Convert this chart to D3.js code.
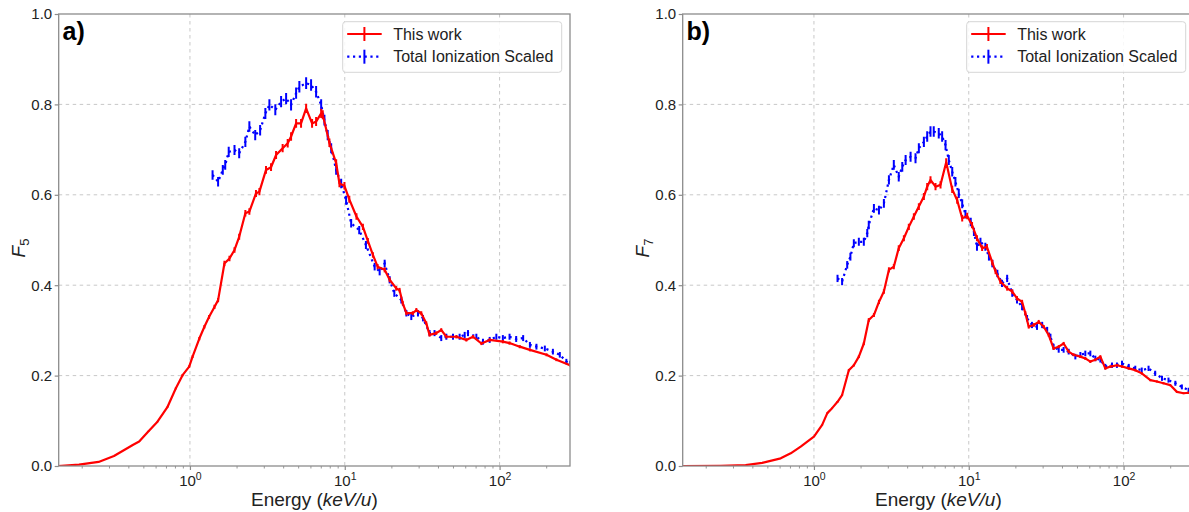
<!DOCTYPE html>
<html>
<head>
<meta charset="utf-8">
<script src="https://cdn.jsdelivr.net/npm/d3@7"></script>
<style>
  html, body { margin: 0; padding: 0; background: #fff; overflow: hidden; }
  svg { display: block; font-family: "Liberation Sans", Arial, Helvetica, sans-serif; }
</style>
</head>
<body>
<svg id="chart" width="1189" height="512"></svg>
<script>
// ---- Data: panel a) F5 ----
const energyA_work = [0.1406, 0.192, 0.257, 0.323, 0.430, 0.470, 0.540, 0.617, 0.717, 0.811, 0.896, 0.989, 1.04, 1.15, 1.24, 1.33, 1.44, 1.52, 1.67, 1.80, 1.94, 2.08, 2.28, 2.42, 2.67, 2.81, 3.10, 3.34, 3.60, 3.97, 4.28, 4.50, 4.85, 5.22, 5.63, 6.15, 6.53, 7.04, 7.21, 7.96, 8.80, 9.24, 9.95, 10.7, 11.9, 13.1, 14.1, 15.2, 16.3, 18.1, 19.5, 21.5, 22.6, 23.7, 25.0, 27.5, 29.0, 31.2, 33.6, 35.3, 39.0, 42.0, 45.3, 52.6, 61.0, 67.3, 76.3, 86.3, 105, 116, 135, 157, 201, 233, 285];
const valueA_work  = [0.0, 0.003, 0.009, 0.022, 0.047, 0.054, 0.077, 0.098, 0.131, 0.172, 0.201, 0.220, 0.242, 0.282, 0.308, 0.330, 0.352, 0.367, 0.448, 0.459, 0.478, 0.507, 0.559, 0.563, 0.603, 0.607, 0.655, 0.661, 0.688, 0.703, 0.714, 0.729, 0.758, 0.758, 0.791, 0.758, 0.762, 0.780, 0.777, 0.715, 0.670, 0.625, 0.620, 0.590, 0.552, 0.529, 0.498, 0.467, 0.441, 0.434, 0.412, 0.393, 0.389, 0.360, 0.338, 0.338, 0.345, 0.338, 0.316, 0.290, 0.294, 0.301, 0.286, 0.286, 0.279, 0.286, 0.271, 0.279, 0.275, 0.272, 0.264, 0.257, 0.246, 0.235, 0.223];
const energyA_ion  = [1.40, 1.52, 1.63, 1.69, 1.78, 1.94, 2.08, 2.28, 2.42, 2.64, 2.84, 3.07, 3.26, 3.56, 3.88, 4.18, 4.50, 4.85, 5.09, 5.63, 6.06, 6.53, 7.04, 7.39, 7.76, 8.17, 8.80, 9.48, 10.2, 11.0, 12.4, 13.7, 15.6, 16.8, 18.1, 19.5, 20.9, 23.2, 25.0, 26.9, 29.7, 32.0, 35.3, 38.0, 42.0, 45.3, 50.0, 55.2, 59.5, 62.5, 70.8, 78.1, 86.3, 95.3, 105, 116, 128, 142, 157, 173, 196, 221, 245, 270, 285];
const valueA_ion   = [0.644, 0.629, 0.655, 0.666, 0.695, 0.699, 0.692, 0.717, 0.751, 0.732, 0.743, 0.780, 0.799, 0.788, 0.806, 0.813, 0.799, 0.825, 0.839, 0.847, 0.843, 0.828, 0.799, 0.765, 0.732, 0.703, 0.655, 0.625, 0.588, 0.537, 0.522, 0.489, 0.441, 0.430, 0.448, 0.412, 0.382, 0.367, 0.338, 0.330, 0.338, 0.327, 0.294, 0.294, 0.283, 0.286, 0.286, 0.286, 0.290, 0.294, 0.286, 0.275, 0.279, 0.286, 0.283, 0.286, 0.281, 0.283, 0.268, 0.264, 0.260, 0.253, 0.246, 0.231, 0.227];

// ---- Data: panel b) F7 ----
const energyB_work = [0.142, 0.250, 0.362, 0.463, 0.610, 0.708, 0.821, 0.906, 1.0, 1.13, 1.22, 1.31, 1.42, 1.52, 1.68, 1.81, 1.95, 2.10, 2.26, 2.44, 2.63, 2.83, 3.05, 3.28, 3.53, 3.81, 4.10, 4.42, 4.76, 5.13, 5.39, 5.66, 6.10, 6.57, 7.15, 7.82, 8.42, 9.07, 9.77, 10.5, 11.3, 12.2, 13.1, 14.2, 14.9, 16.0, 17.7, 19.1, 20.5, 22.1, 23.2, 24.4, 26.3, 28.3, 30.5, 32.8, 35.3, 38.1, 41.0, 44.2, 47.6, 52.6, 56.6, 61.0, 65.7, 70.8, 76.2, 82.2, 90.6, 97.7, 108, 119, 131, 149, 164, 181, 200, 221, 244, 263, 285];
const valueB_work  = [0.0, 0.0005, 0.002, 0.007, 0.017, 0.028, 0.043, 0.054, 0.065, 0.091, 0.117, 0.128, 0.142, 0.157, 0.212, 0.223, 0.242, 0.271, 0.323, 0.334, 0.363, 0.386, 0.434, 0.441, 0.482, 0.504, 0.529, 0.552, 0.574, 0.596, 0.618, 0.633, 0.618, 0.622, 0.672, 0.612, 0.588, 0.548, 0.553, 0.533, 0.504, 0.482, 0.485, 0.450, 0.430, 0.408, 0.393, 0.386, 0.371, 0.363, 0.338, 0.308, 0.312, 0.319, 0.308, 0.290, 0.260, 0.264, 0.271, 0.253, 0.246, 0.242, 0.238, 0.231, 0.235, 0.242, 0.216, 0.220, 0.223, 0.220, 0.216, 0.212, 0.205, 0.190, 0.187, 0.183, 0.179, 0.164, 0.161, 0.162, 0.160];
const energyB_ion  = [1.42, 1.52, 1.64, 1.72, 1.81, 1.95, 2.10, 2.21, 2.26, 2.44, 2.63, 2.83, 3.05, 3.28, 3.53, 3.72, 3.91, 4.21, 4.53, 4.76, 5.13, 5.39, 5.66, 5.94, 6.40, 6.73, 7.08, 7.43, 7.82, 8.20, 8.62, 9.07, 9.52, 10.3, 10.8, 11.3, 11.9, 12.8, 13.5, 14.2, 15.3, 16.4, 17.7, 19.1, 20.5, 22.1, 23.8, 25.6, 27.6, 29.8, 32.1, 33.7, 35.3, 38.1, 41.0, 44.2, 48.8, 52.6, 56.6, 61.0, 65.7, 70.8, 76.2, 84.2, 90.6, 97.7, 108, 119, 131, 145, 160, 177, 195, 216, 238, 263, 285];
const valueB_ion   = [0.415, 0.408, 0.445, 0.463, 0.493, 0.496, 0.496, 0.515, 0.533, 0.570, 0.566, 0.581, 0.633, 0.666, 0.640, 0.662, 0.677, 0.684, 0.681, 0.703, 0.717, 0.729, 0.740, 0.740, 0.736, 0.729, 0.710, 0.677, 0.651, 0.629, 0.603, 0.580, 0.557, 0.540, 0.518, 0.485, 0.496, 0.485, 0.463, 0.448, 0.426, 0.404, 0.415, 0.382, 0.367, 0.352, 0.327, 0.312, 0.308, 0.312, 0.301, 0.286, 0.264, 0.257, 0.257, 0.253, 0.242, 0.246, 0.249, 0.249, 0.238, 0.235, 0.220, 0.223, 0.223, 0.227, 0.220, 0.216, 0.212, 0.216, 0.205, 0.194, 0.190, 0.183, 0.175, 0.168, 0.163];

// Uncertainties: relative part plus a flat floor
const relErrWork = 0.013, absErrWork = 0.0;
const relErrIon = 0.011, absErrIon = 0.0035;

const xDomain = [0.142, 285];
const xTickValues = [1, 10, 100];
const xTickExponents = ["0", "1", "2"];
const yTickValues = [0.0, 0.2, 0.4, 0.6, 0.8, 1.0];
const yTickLabels = ["0.0", "0.2", "0.4", "0.6", "0.8", "1.0"];
const seriesNames = ["This work", "Total Ionization Scaled"];

const plotWidth = 511.3;
const panels = [
  { tag: "a)", sub: "5", left: 58.7,
    work: { e: energyA_work, v: valueA_work }, ion: { e: energyA_ion, v: valueA_ion } },
  { tag: "b)", sub: "7", left: 682.7,
    work: { e: energyB_work, v: valueB_work }, ion: { e: energyB_ion, v: valueB_ion } }
];

const plotTop = 14, plotBottom = 466;
const RED = "#ff0000", BLUE = "#0000ff";
const svg = d3.select("#chart");

panels.forEach(p => {
  const right = p.left + plotWidth;
  const x = d3.scaleLog().domain(xDomain).range([p.left, right]);
  const y = d3.scaleLinear().domain([0, 1]).range([plotBottom, plotTop]);
  const g = svg.append("g");

  // grid
  const grid = g.append("g").attr("stroke", "#c8c8c8").attr("stroke-width", 1)
    .attr("stroke-dasharray", "3.5,3.5");
  xTickValues.forEach(t => grid.append("line")
    .attr("x1", x(t)).attr("x2", x(t)).attr("y1", plotTop).attr("y2", plotBottom));
  yTickValues.slice(1, -1).forEach(t => grid.append("line")
    .attr("x1", p.left).attr("x2", right).attr("y1", y(t)).attr("y2", y(t)));

  // clip for data
  const clipId = "clip" + p.sub;
  svg.append("clipPath").attr("id", clipId).append("rect")
    .attr("x", p.left).attr("y", plotTop).attr("width", plotWidth).attr("height", plotBottom - plotTop);
  const data = g.append("g").attr("clip-path", `url(#${clipId})`);

  const line = d3.line().x(d => x(d[0])).y(d => y(d[1]));

  // Total ionization (scaled): dotted line with error bars
  const ionPts = p.ion.e.map((e, i) => [e, p.ion.v[i]]);
  data.append("path").datum(ionPts).attr("d", line)
    .attr("fill", "none").attr("stroke", BLUE).attr("stroke-width", 2.2)
    .attr("stroke-dasharray", "2.2,3.6");
  data.append("g").selectAll("line").data(ionPts).join("line")
    .attr("x1", d => x(d[0])).attr("x2", d => x(d[0]))
    .attr("y1", d => y(d[1] - d[1] * relErrIon - absErrIon))
    .attr("y2", d => y(d[1] + d[1] * relErrIon + absErrIon))
    .attr("stroke", BLUE).attr("stroke-width", 2);

  // This work: solid line with error bars
  const workPts = p.work.e.map((e, i) => [e, p.work.v[i]]);
  data.append("path").datum(workPts).attr("d", line)
    .attr("fill", "none").attr("stroke", RED).attr("stroke-width", 2.2)
    .attr("stroke-linejoin", "round");
  data.append("g").selectAll("line").data(workPts).join("line")
    .attr("x1", d => x(d[0])).attr("x2", d => x(d[0]))
    .attr("y1", d => y(d[1] - d[1] * relErrWork - absErrWork))
    .attr("y2", d => y(d[1] + d[1] * relErrWork + absErrWork))
    .attr("stroke", RED).attr("stroke-width", 2);

  // frame
  g.append("rect").attr("x", p.left).attr("y", plotTop)
    .attr("width", plotWidth).attr("height", plotBottom - plotTop)
    .attr("fill", "none").attr("stroke", "#8c8c8c").attr("stroke-width", 1.3);

  // x axis: major ticks with power-of-ten labels
  const xAxis = g.append("g").attr("transform", `translate(0,${plotBottom})`)
    .call(d3.axisBottom(x).tickValues(xTickValues).tickSize(4).tickFormat(() => ""));
  xAxis.select(".domain").remove();
  xAxis.selectAll(".tick line").attr("stroke", "#8c8c8c").attr("stroke-width", 1.2);
  xAxis.selectAll(".tick").each(function(d, i) {
    const t = d3.select(this).append("text").attr("fill", "#222").attr("y", 19.5)
      .attr("text-anchor", "middle").style("font-size", "15px");
    t.append("tspan").text("10");
    t.append("tspan").attr("dy", -6).style("font-size", "10.5px").text(xTickExponents[i]);
  });

  // x axis: minor ticks
  const minor = [];
  for (let dec = 0.1; dec <= 1000; dec *= 10) {
    for (let k = 2; k <= 9; k++) {
      const v = dec * k;
      if (v >= xDomain[0] && v <= xDomain[1]) minor.push(v);
    }
  }
  const xMinor = g.append("g").attr("transform", `translate(0,${plotBottom})`)
    .call(d3.axisBottom(x).tickValues(minor).tickSize(2.5).tickFormat(""));
  xMinor.select(".domain").remove();
  xMinor.selectAll(".tick line").attr("stroke", "#8c8c8c").attr("stroke-width", 0.9);

  // y axis
  const yAxis = g.append("g").attr("transform", `translate(${p.left},0)`)
    .call(d3.axisLeft(y).tickValues(yTickValues).tickSize(4).tickFormat((d, i) => yTickLabels[i]));
  yAxis.select(".domain").remove();
  yAxis.selectAll(".tick line").attr("stroke", "#8c8c8c").attr("stroke-width", 1.2);
  yAxis.selectAll(".tick text").attr("fill", "#222").attr("x", -6.5)
    .style("font-size", "15px").style("font-family", "'Liberation Sans', Arial, sans-serif");

  // axis titles
  const cx = p.left + plotWidth / 2;
  const xl = g.append("text").attr("x", cx).attr("y", 506).attr("text-anchor", "middle")
    .attr("fill", "#222").style("font-size", "19px");
  xl.append("tspan").text("Energy (");
  xl.append("tspan").style("font-style", "italic").text("keV/u");
  xl.append("tspan").text(")");

  const yl = g.append("text")
    .attr("transform", `translate(${p.left - 34},${(plotTop + plotBottom) / 2 + 8}) rotate(-90)`)
    .attr("text-anchor", "middle").attr("fill", "#222").style("font-size", "19px");
  yl.append("tspan").style("font-style", "italic").text("F");
  yl.append("tspan").attr("dy", 4).style("font-size", "13px").text(p.sub);

  // panel tag
  g.append("text").attr("x", p.left + 3.8).attr("y", 39.5).attr("fill", "#000")
    .style("font-size", "25px").style("font-weight", "bold").text(p.tag);

  // legend
  const lw = 219, lh = 50.6;
  const lx = right - 8.3 - lw, ly = 21.7;
  const leg = g.append("g");
  leg.append("rect").attr("x", lx).attr("y", ly).attr("width", lw).attr("height", lh)
    .attr("rx", 3).attr("fill", "#fff").attr("fill-opacity", 0.85)
    .attr("stroke", "#d6d6d6").attr("stroke-width", 1);
  const rows = [
    { name: seriesNames[0], color: RED, dash: null, y: ly + 12.3 },
    { name: seriesNames[1], color: BLUE, dash: "2.2,3.6", y: ly + 35 }
  ];
  rows.forEach(r => {
    leg.append("line").attr("x1", lx + 4.5).attr("x2", lx + 39).attr("y1", r.y).attr("y2", r.y)
      .attr("stroke", r.color).attr("stroke-width", 2.2).attr("stroke-dasharray", r.dash);
    leg.append("line").attr("x1", lx + 21.7).attr("x2", lx + 21.7).attr("y1", r.y - 7).attr("y2", r.y + 7)
      .attr("stroke", r.color).attr("stroke-width", 2);
    leg.append("text").attr("x", lx + 50.5).attr("y", r.y + 5.6).attr("fill", "#222")
      .style("font-size", "16px").text(r.name);
  });
});
</script>
</body>
</html>
